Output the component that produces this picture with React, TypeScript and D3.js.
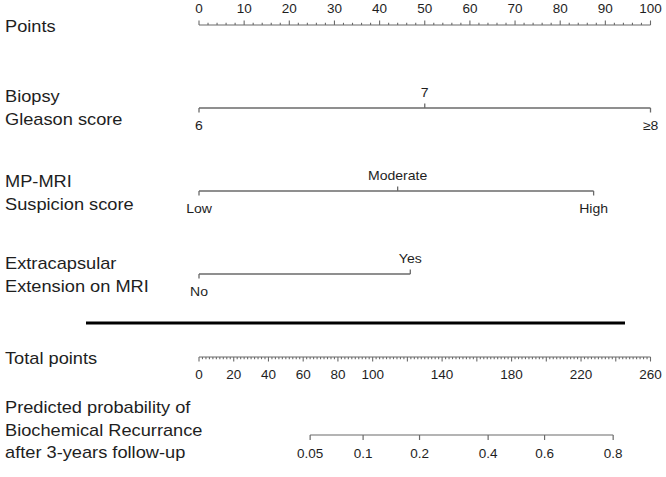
import React from "react";
import * as d3 from "d3";

// ---- data ----
const pointsMajor = [0, 10, 20, 30, 40, 50, 60, 70, 80, 90, 100];
const gleasonLevels = ["6", "7", "≥8"];
const gleasonPoints = [0, 50, 100];
const mriLevels = ["Low", "Moderate", "High"];
const mriPoints = [0, 44, 87.4];
const eceLevels = ["No", "Yes"];
const ecePoints = [0, 46.8];
const totalLabels = [0, 20, 40, 60, 80, 100, 140, 180, 220, 260];
const probLabels = ["0.05", "0.1", "0.2", "0.4", "0.6", "0.8"];
const probTotals = [64, 94.5, 127, 166.5, 199, 238.5];

const W = 666;
const H = 477;
const FONT = "'Liberation Sans', Arial, sans-serif";
const LINE = "#6a6a6a";
const TXT = "#1e1e1e";

const xPts = d3.scaleLinear().domain([0, 100]).range([199, 650.5]);
const xTot = d3.scaleLinear().domain([0, 260]).range([199, 650.5]);

function T({
  x,
  y,
  size,
  sx,
  anchor,
  children,
}: {
  x: number;
  y: number;
  size: number;
  sx: number;
  anchor?: string;
  children: React.ReactNode;
}) {
  return (
    <text
      transform={`translate(${x},${y}) scale(${sx},1)`}
      textAnchor={anchor || "start"}
      fontSize={size}
      fill={TXT}
      fontFamily={FONT}
    >
      {children}
    </text>
  );
}

function CatAxis({ levels, pts, y }: { levels: string[]; pts: number[]; y: number }) {
  const x0 = xPts(d3.min(pts) as number);
  const x1 = xPts(d3.max(pts) as number);
  return (
    <g>
      <line x1={x0} x2={x1} y1={y} y2={y} stroke={LINE} strokeWidth={1.3} />
      {levels.map((lv, i) => {
        const above = i % 2 === 1;
        const x = xPts(pts[i]);
        return (
          <g key={lv}>
            <line x1={x} x2={x} y1={y} y2={above ? y - 4.5 : y + 4.5} stroke={LINE} strokeWidth={1.3} />
            <T x={x} y={above ? y - 11 : y + 22} size={13} sx={1.08} anchor="middle">
              {lv}
            </T>
          </g>
        );
      })}
    </g>
  );
}

export default function App() {
  const rowLabels: { lines: string[]; y: number }[] = [
    { lines: ["Points"], y: 32 },
    { lines: ["Biopsy", "Gleason score"], y: 102 },
    { lines: ["MP-MRI", "Suspicion score"], y: 187 },
    { lines: ["Extracapsular", "Extension on MRI"], y: 269 },
    { lines: ["Total points"], y: 364 },
    { lines: ["Predicted probability of", "Biochemical Recurrance", "after 3-years follow-up"], y: 413 },
  ];

  const ptsMinor = d3.range(0, 100.001, 2);
  const totMinor = d3.range(0, 260.001, 2);
  const totMajor = d3.range(0, 260.001, 20);

  const yPts = 25;
  const yTot = 357;
  const yProb = 435;

  return (
    <svg
      width={W}
      height={H}
      style={{ position: "absolute", left: 0, top: 0, display: "block", background: "#fff" }}
    >
      <rect width={W} height={H} fill="#fff" />
      {rowLabels.map((r) =>
        r.lines.map((l, i) => (
          <T key={l} x={5} y={r.y + i * 22.5} size={16} sx={1.14}>
            {l}
          </T>
        ))
      )}

      {/* Points axis */}
      <line x1={xPts(0)} x2={xPts(100)} y1={yPts} y2={yPts} stroke={LINE} strokeWidth={1.2} />
      {ptsMinor.map((v) => (
        <line
          key={"pm" + v}
          x1={xPts(v)}
          x2={xPts(v)}
          y1={yPts}
          y2={yPts - (v % 10 === 0 ? 4.5 : 2.2)}
          stroke={LINE}
          strokeWidth={1.1}
        />
      ))}
      {pointsMajor.map((v) => (
        <T key={"pl" + v} x={xPts(v)} y={13} size={12.5} sx={1.08} anchor="middle">
          {v}
        </T>
      ))}

      <CatAxis levels={gleasonLevels} pts={gleasonPoints} y={108} />
      <CatAxis levels={mriLevels} pts={mriPoints} y={191} />
      <CatAxis levels={eceLevels} pts={ecePoints} y={274} />

      {/* separator */}
      <line x1={86} x2={625} y1={323} y2={323} stroke="#000" strokeWidth={3} />

      {/* Total points axis */}
      <line x1={xTot(0)} x2={xTot(260)} y1={yTot} y2={yTot} stroke={LINE} strokeWidth={1.2} />
      {totMinor.map((v) => (
        <line
          key={"tm" + v}
          x1={xTot(v)}
          x2={xTot(v)}
          y1={yTot}
          y2={yTot + (totMajor.includes(v) ? 4.5 : 2.2)}
          stroke={LINE}
          strokeWidth={1.1}
        />
      ))}
      {totalLabels.map((v) => (
        <T key={"tl" + v} x={xTot(v)} y={379} size={12.5} sx={1.08} anchor="middle">
          {v}
        </T>
      ))}

      {/* Probability axis */}
      <line
        x1={xTot(probTotals[0])}
        x2={xTot(probTotals[probTotals.length - 1])}
        y1={yProb}
        y2={yProb}
        stroke={LINE}
        strokeWidth={1.2}
      />
      {probTotals.map((t, i) => (
        <g key={"pr" + i}>
          <line x1={xTot(t)} x2={xTot(t)} y1={yProb} y2={yProb + 5} stroke={LINE} strokeWidth={1.2} />
          <T x={xTot(t)} y={458} size={12.5} sx={1.08} anchor="middle">
            {probLabels[i]}
          </T>
        </g>
      ))}
    </svg>
  );
}
